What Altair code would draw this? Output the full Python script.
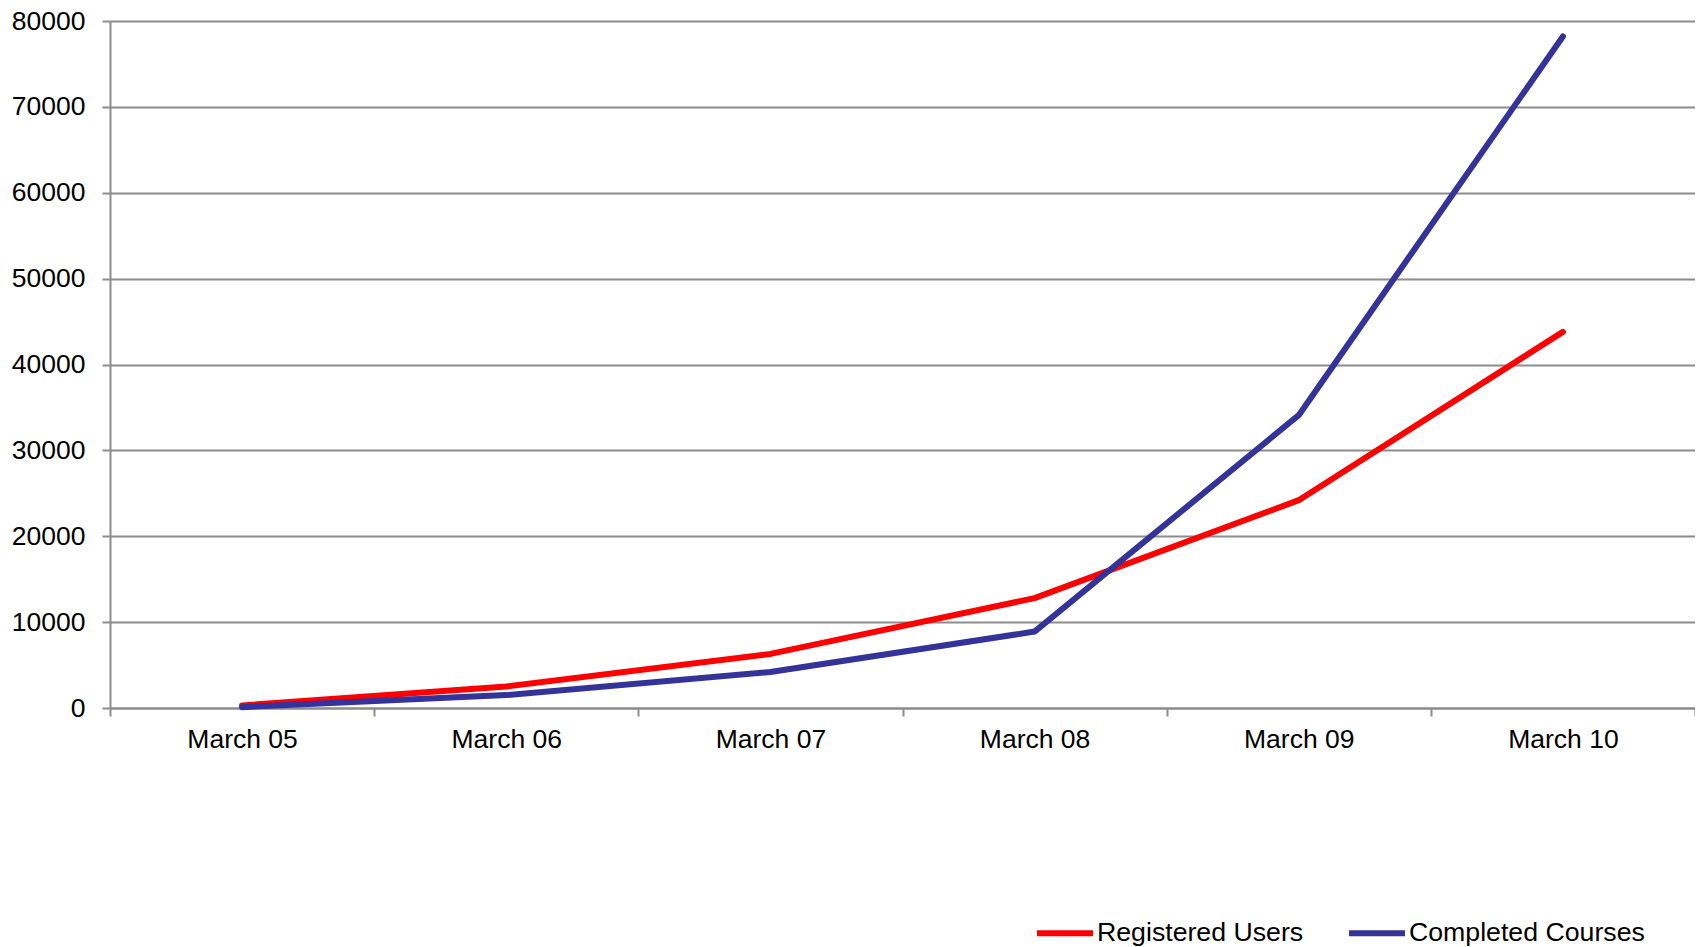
import altair as alt
import pandas as pd

categories = ["March 05", "March 06", "March 07", "March 08", "March 09", "March 10"]
registered_users = [300, 2500, 6300, 12800, 24200, 43800]
completed_courses = [100, 1500, 4200, 8900, 34100, 78200]
series_names = ["Registered Users", "Completed Courses"]
series_colors = ["#FF0000", "#333399"]

rows = []
for name, values in zip(series_names, [registered_users, completed_courses]):
    for c, v in zip(categories, values):
        rows.append({"Month": c, "Value": v, "Series": name})
df = pd.DataFrame(rows)

FONT = "Liberation Sans"

chart = alt.Chart(df).mark_line(strokeWidth=6, strokeCap="round", strokeJoin="round").encode(
    x=alt.X("Month:N", sort=categories, title=None,
            scale=alt.Scale(type="band", paddingInner=0, paddingOuter=0),
            axis=alt.Axis(labelAngle=0, tickBand="extent", labelFontSize=26.5, labelFont=FONT,
                          labelColor="#000000", labelPadding=10, tickSize=8, tickColor="#8c8c8c",
                          tickWidth=2, domainColor="#8c8c8c", domainWidth=2, grid=False)),
    y=alt.Y("Value:Q", title=None,
            scale=alt.Scale(domain=[0, 80000], nice=False),
            axis=alt.Axis(values=[0, 10000, 20000, 30000, 40000, 50000, 60000, 70000, 80000],
                          format="d", labelFontSize=26.5, labelFont=FONT, labelColor="#000000",
                          labelPadding=17, tickSize=8, tickColor="#8c8c8c", tickWidth=2,
                          domainColor="#8c8c8c", domainWidth=2,
                          gridColor="#8c8c8c", gridWidth=2, gridOpacity=1)),
    color=alt.Color("Series:N", sort=series_names,
                    scale=alt.Scale(domain=series_names, range=series_colors),
                    legend=alt.Legend(title=None, orient="none", legendX=924, legendY=881,
                                      direction="horizontal", columns=2, columnPadding=33,
                                      symbolType="stroke", symbolSize=3136, symbolStrokeWidth=6,
                                      labelFontSize=26.7, labelFont=FONT, labelColor="#000000",
                                      labelOffset=1, labelLimit=0, symbolLimit=0)),
).properties(
    width=1585, height=687,
    padding={"left": 102, "top": 13, "right": 0, "bottom": 239},
    autosize=alt.AutoSizeParams(type="none"),
).configure_view(stroke=None)

chart.save("out.html", embed_options={"renderer": "svg", "actions": False})
